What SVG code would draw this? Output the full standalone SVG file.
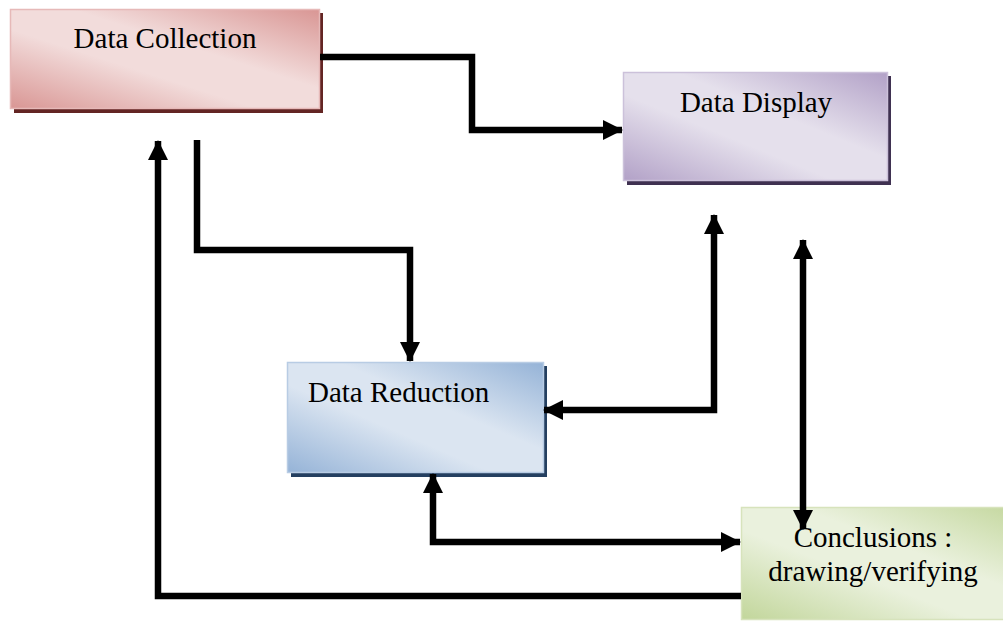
<svg xmlns="http://www.w3.org/2000/svg" width="1003" height="621" viewBox="0 0 1003 621">
  <defs>
    <linearGradient id="gRed" x1="0" y1="1" x2="1" y2="0">
      <stop offset="0" stop-color="#d99694"/>
      <stop offset="0.4" stop-color="#f2dcdb"/>
      <stop offset="0.6" stop-color="#f2dcdb"/>
      <stop offset="1" stop-color="#d99694"/>
    </linearGradient>
    <linearGradient id="gPurple" x1="0" y1="1" x2="1" y2="0">
      <stop offset="0" stop-color="#b2a1c7"/>
      <stop offset="0.4" stop-color="#e5e0ec"/>
      <stop offset="0.6" stop-color="#e5e0ec"/>
      <stop offset="1" stop-color="#b2a1c7"/>
    </linearGradient>
    <linearGradient id="gBlue" x1="0" y1="1" x2="1" y2="0">
      <stop offset="0" stop-color="#95b3d7"/>
      <stop offset="0.4" stop-color="#dbe5f1"/>
      <stop offset="0.6" stop-color="#dbe5f1"/>
      <stop offset="1" stop-color="#95b3d7"/>
    </linearGradient>
    <linearGradient id="gGreen" x1="0" y1="1" x2="1" y2="0">
      <stop offset="0" stop-color="#c2d69b"/>
      <stop offset="0.4" stop-color="#eaf1dd"/>
      <stop offset="0.6" stop-color="#eaf1dd"/>
      <stop offset="1" stop-color="#c2d69b"/>
    </linearGradient>
    <marker id="arr" markerUnits="userSpaceOnUse" markerWidth="20" markerHeight="20" refX="19" refY="10" orient="auto-start-reverse" viewBox="0 0 20 20">
      <path d="M0,0 L20,10 L0,20 Z" fill="#000"/>
    </marker>
  </defs>
  <style>
    .lbl { font-family: "Liberation Serif", "Times New Roman", serif; font-size: 29px; fill: #000; }
    .conn { fill: none; stroke: #000; stroke-width: 6.5; stroke-linejoin: miter; }
    .box { stroke-width: 1.5; }
  </style>
  <rect width="1003" height="621" fill="#fff"/>

  <g id="data-collection">
    <rect x="14" y="13" width="309" height="100" fill="#632523"/>
    <rect class="box" x="10.5" y="9.5" width="309" height="99" fill="url(#gRed)" stroke="#e6b9b8"/>
    <text class="lbl" x="165" y="48" text-anchor="middle">Data Collection</text>
  </g>

  <g id="data-display">
    <rect x="627" y="76" width="264" height="109" fill="#3f3151"/>
    <rect class="box" x="623.5" y="72.5" width="264" height="108" fill="url(#gPurple)" stroke="#ccc1da"/>
    <text class="lbl" x="756" y="112" text-anchor="middle">Data Display</text>
  </g>

  <g id="data-reduction">
    <rect x="291" y="366" width="256" height="111" fill="#243f60"/>
    <rect class="box" x="287.5" y="362.5" width="256" height="110" fill="url(#gBlue)" stroke="#b8cce4"/>
    <text class="lbl" x="308" y="402">Data Reduction</text>
  </g>

  <g id="conclusions">
    <rect class="box" x="741.5" y="507.5" width="290" height="112" fill="url(#gGreen)" stroke="#d7e3bc"/>
    <text class="lbl" x="873" y="547" text-anchor="middle">Conclusions :</text>
    <text class="lbl" x="873" y="581" text-anchor="middle">drawing/verifying</text>
  </g>

  <g id="connectors">
    <path class="conn" d="M320,57 H472 V130 H622" marker-end="url(#arr)"/>
    <path class="conn" d="M197,140 V250 H410 V361" marker-end="url(#arr)"/>
    <path class="conn" d="M741,596 H158 V141" marker-end="url(#arr)"/>
    <path class="conn" d="M433,474 V542 H740" marker-start="url(#arr)" marker-end="url(#arr)"/>
    <path class="conn" d="M544,410 H714 V215" marker-start="url(#arr)" marker-end="url(#arr)"/>
    <path class="conn" d="M803,240 V529" marker-start="url(#arr)" marker-end="url(#arr)"/>
  </g>
</svg>
